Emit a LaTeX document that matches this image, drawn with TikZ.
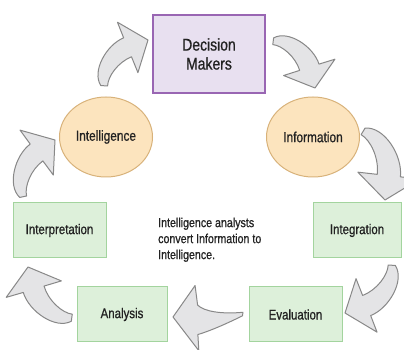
\documentclass[tikz,border=0pt]{standalone}
\usepackage{fontspec}
\setmainfont{Liberation Sans}[FakeStretch=0.82,FakeBold=0.8]
\usetikzlibrary{calc,shapes.geometric}
\definecolor{dmfill}{HTML}{E8E0F0}
\definecolor{dmline}{HTML}{9966B3}
\definecolor{elfill}{HTML}{FCE4BE}
\definecolor{elline}{HTML}{D8B27A}
\definecolor{gfill}{HTML}{DDF0DA}
\definecolor{gline}{HTML}{A3D49E}
\definecolor{afill}{HTML}{E4E4E6}
\definecolor{aline}{HTML}{888888}
\definecolor{txt}{HTML}{222222}
\tikzset{
  barrow/.style={fill=afill,draw=aline,line width=1pt,line join=round},
  dmbox/.style={rectangle,draw=dmline,fill=dmfill,line width=1.2pt,minimum width=112pt,minimum height=78pt,inner sep=0pt,align=center,text=txt,font=\fontsize{17}{19}\selectfont},
  ell/.style={ellipse,draw=elline,fill=elfill,line width=1pt,minimum width=93pt,minimum height=80pt,inner sep=0pt,text=txt,font=\fontsize{14.5}{16}\selectfont},
  gbox/.style={rectangle,draw=gline,fill=gfill,line width=1pt,minimum height=55pt,inner sep=0pt,text=txt,font=\fontsize{14}{16}\selectfont},
  note/.style={inner sep=0pt,align=left,text=txt,font=\fontsize{13}{16}\selectfont},
}
% curved block arrow from tail #1 to tip #2, bulging to the left of its course
\newcommand\blockarrow[2]{%
  \begin{scope}[shift={(#1)},x={($(#2)-(#1)$)},y={($(#1)!1!90:(#2)-(#1)$)}]
    \draw[barrow] (-0.03,0.04) .. controls (0.03,0.30) and (0.49,0.42) .. (0.76,0.30)
      -- (0.87,0.54) -- (1,0) -- (0.52,-0.24) -- (0.63,0.005)
      .. controls (0.42,0.10) and (0.15,0.06) .. (0.04,-0.04) -- cycle;
  \end{scope}}
\newcommand\blockarrowsym[2]{%
  \begin{scope}[shift={(#1)},x={($(#2)-(#1)$)},y={($(#1)!1!90:(#2)-(#1)$)}]
    \draw[barrow] (0.01,0.04) .. controls (0.2,0.12) and (0.45,0.22) .. (0.66,0.27)
      -- (0.66,0.50) -- (1,0) -- (0.66,-0.43) -- (0.64,-0.15)
      .. controls (0.55,-0.05) and (0.3,0.0) .. (0,-0.01) -- cycle;
  \end{scope}}
\begin{document}
\begin{tikzpicture}[x=1pt,y=1pt]
\useasboundingbox (0,0) rectangle (404,350);
\fill[white] (0,0) rectangle (404,350);
% arrow end points
\coordinate (a1s) at (104,264); \coordinate (a1e) at (148,310);
\coordinate (a2s) at (273,309); \coordinate (a2e) at (315,262);
\coordinate (a3s) at (363,219); \coordinate (a3e) at (385,150);
\coordinate (a4s) at (392,85);  \coordinate (a4e) at (345,37);
\coordinate (a5s) at (243,37);  \coordinate (a5e) at (173,33);
\coordinate (a6s) at (72,32);   \coordinate (a6e) at (28,83);
\coordinate (a7s) at (23,153);  \coordinate (a7e) at (55,210);
\blockarrow{a1s}{a1e}
\blockarrow{a2s}{a2e}
\blockarrow{a3s}{a3e}
\blockarrow{a4s}{a4e}
\blockarrowsym{a5s}{a5e}
\blockarrow{a6s}{a6e}
\blockarrow{a7s}{a7e}
% nodes
\node[dmbox] (dm) at (209,296) {Decision\\Makers};
\node[ell] (intel) at (106,213) {Intelligence};
\node[ell] (info) at (313,213) {Information};
\node[gbox,minimum width=93pt] (interp) at (59.5,119.5) {Interpretation};
\node[gbox,minimum width=88pt] (integ) at (357,119.5) {Integration};
\node[gbox,minimum width=90pt] (anal) at (122,35.5) {Analysis};
\node[gbox,minimum width=93pt] (eval) at (295.5,35.5) {Evaluation};
\node[note,anchor=north west] (txt) at (158,132.5) {Intelligence analysts\\convert Information to\\Intelligence.};
\end{tikzpicture}
\end{document}
